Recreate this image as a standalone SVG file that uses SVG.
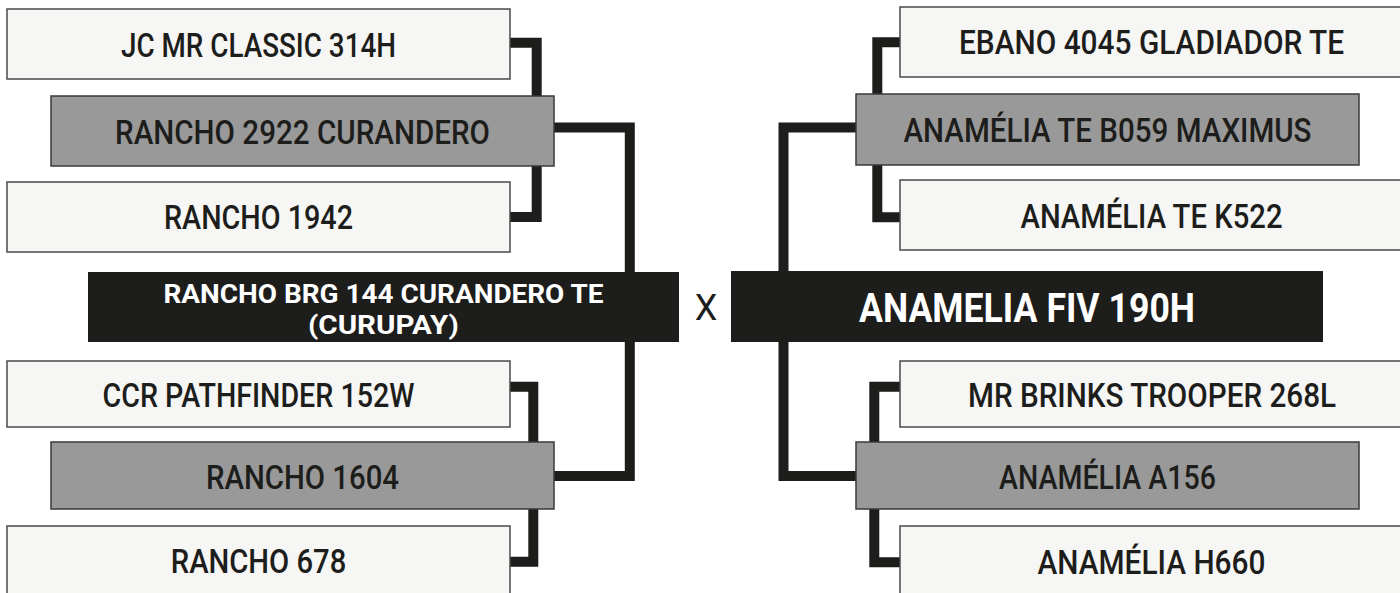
<svg xmlns="http://www.w3.org/2000/svg" width="1400" height="593" viewBox="0 0 1400 593">
<style>
.light{fill:#f6f6f4;stroke:#4a4a4a;stroke-width:1.5}
.mid{fill:#999999;stroke:#3a3a3a;stroke-width:1.5}
.dark{fill:#1d1d1b}
.t{font-family:Roboto,"Liberation Sans",Arial,sans-serif;font-weight:500;font-size:33px;fill:#1d1d1b;text-anchor:middle}
.tb{font-family:Roboto,"Liberation Sans",Arial,sans-serif;font-weight:700;fill:#ffffff;text-anchor:middle}
.conn{fill:none;stroke:#1d1d1b;stroke-width:10;stroke-linejoin:miter}
</style>
<rect width="1400" height="593" fill="#ffffff"/>
<g id="connectors">
<path class="conn" d="M505,42.7 H536.7 V217 H505"/>
<path class="conn" d="M550,127.5 H629.8 V476 H550"/>
<path class="conn" d="M505,386.7 H533.3 V561.7 H505"/>
<path class="conn" d="M905,42.3 H877.3 V217.3 H905"/>
<path class="conn" d="M860,127.5 H783.5 V476 H860"/>
<path class="conn" d="M905,386.7 H874.3 V562.3 H905"/>
</g>
<g id="jc-mr-classic">
<rect class="light" x="7" y="9" width="503" height="70"/>
<text class="t" x="258.5" y="56.5" textLength="275" lengthAdjust="spacingAndGlyphs">JC MR CLASSIC 314H</text>
</g>
<g id="rancho-2922">
<rect class="mid" x="51" y="96" width="503" height="70"/>
<text class="t" x="302.5" y="143.5" textLength="375" lengthAdjust="spacingAndGlyphs">RANCHO 2922 CURANDERO</text>
</g>
<g id="rancho-1942">
<rect class="light" x="7" y="182" width="503" height="70"/>
<text class="t" x="258.5" y="229" textLength="189" lengthAdjust="spacingAndGlyphs">RANCHO 1942</text>
</g>
<g id="rancho-brg-144">
<rect class="dark" x="88" y="272" width="591" height="70"/>
<text class="tb" x="383.5" y="303" font-size="26" textLength="440" lengthAdjust="spacingAndGlyphs">RANCHO BRG 144 CURANDERO TE</text>
<text class="tb" x="383.5" y="334" font-size="26" textLength="151" lengthAdjust="spacingAndGlyphs">(CURUPAY)</text>
</g>
<g id="cross">
<text x="706" y="320" font-family="Roboto,'Liberation Sans',Arial,sans-serif" font-size="36" fill="#1d1d1b" text-anchor="middle">X</text>
</g>
<g id="anamelia-fiv-190h">
<rect class="dark" x="731" y="271" width="592" height="71"/>
<text class="tb" x="1027" y="322" font-size="40" textLength="336" lengthAdjust="spacingAndGlyphs">ANAMELIA FIV 190H</text>
</g>
<g id="ccr-pathfinder">
<rect class="light" x="7" y="361" width="503" height="66"/>
<text class="t" x="258.5" y="406.5" textLength="312" lengthAdjust="spacingAndGlyphs">CCR PATHFINDER 152W</text>
</g>
<g id="rancho-1604">
<rect class="mid" x="51" y="442" width="503" height="67"/>
<text class="t" x="302.5" y="488.5" textLength="193" lengthAdjust="spacingAndGlyphs">RANCHO 1604</text>
</g>
<g id="rancho-678">
<rect class="light" x="7" y="526" width="503" height="70"/>
<text class="t" x="258.5" y="573" textLength="175.5" lengthAdjust="spacingAndGlyphs">RANCHO 678</text>
</g>
<g id="ebano-4045">
<rect class="light" x="900" y="7" width="503" height="70"/>
<text class="t" x="1151.5" y="54" textLength="385" lengthAdjust="spacingAndGlyphs">EBANO 4045 GLADIADOR TE</text>
</g>
<g id="anamelia-b059">
<rect class="mid" x="856" y="94" width="503" height="71"/>
<text class="t" x="1107.5" y="141.5" textLength="408" lengthAdjust="spacingAndGlyphs">ANAMÉLIA TE B059 MAXIMUS</text>
</g>
<g id="anamelia-k522">
<rect class="light" x="900" y="180" width="503" height="70"/>
<text class="t" x="1151.5" y="227.5" textLength="262" lengthAdjust="spacingAndGlyphs">ANAMÉLIA TE K522</text>
</g>
<g id="mr-brinks">
<rect class="light" x="900" y="361" width="503" height="66"/>
<text class="t" x="1152" y="406.5" textLength="368" lengthAdjust="spacingAndGlyphs">MR BRINKS TROOPER 268L</text>
</g>
<g id="anamelia-a156">
<rect class="mid" x="856" y="442" width="503" height="67"/>
<text class="t" x="1107.5" y="489" textLength="217" lengthAdjust="spacingAndGlyphs">ANAMÉLIA A156</text>
</g>
<g id="anamelia-h660">
<rect class="light" x="900" y="526" width="503" height="70"/>
<text class="t" x="1151.5" y="574" textLength="228" lengthAdjust="spacingAndGlyphs">ANAMÉLIA H660</text>
</g>
</svg>
